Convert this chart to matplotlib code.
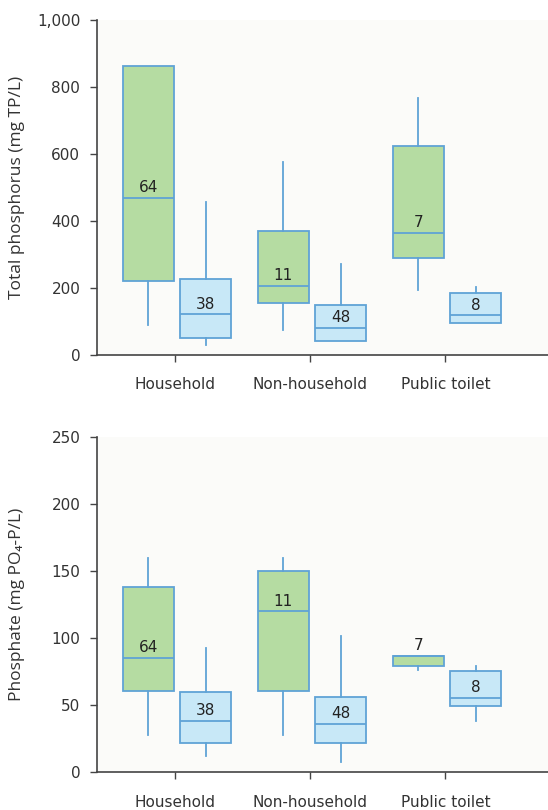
import matplotlib
matplotlib.use("Agg")
import matplotlib.pyplot as plt

categories = ["Household", "Non-household", "Public toilet"]

# Total phosphorus (mg TP/L): green series then blue series
tp_green_low = [90, 75, 194]
tp_green_q1 = [221, 156, 290]
tp_green_med = [470, 206, 363]
tp_green_q3 = [864, 371, 625]
tp_green_high = [864, 577, 768]
tp_green_n = [64, 11, 7]

tp_blue_low = [30, 43, 95]
tp_blue_q1 = [52, 43, 95]
tp_blue_med = [121, 81, 118]
tp_blue_q3 = [226, 149, 186]
tp_blue_high = [456, 271, 204]
tp_blue_n = [38, 48, 8]

# Phosphate (mg PO4-P/L)
po_green_low = [28, 28, 76]
po_green_q1 = [61, 61, 79]
po_green_med = [85, 120, 87]
po_green_q3 = [138, 150, 87]
po_green_high = [160, 160, 87]
po_green_n = [64, 11, 7]

po_blue_low = [12, 8, 38]
po_blue_q1 = [22, 22, 49.5]
po_blue_med = [38, 36, 55.7]
po_blue_q3 = [60, 56, 75.6]
po_blue_high = [92.5, 102, 79]
po_blue_n = [38, 48, 8]

tp_ticks = [0, 200, 400, 600, 800, 1000]
tp_tick_labels = ["0", "200", "400", "600", "800", "1,000"]
po_ticks = [0, 50, 100, 150, 200, 250]
po_tick_labels = ["0", "50", "100", "150", "200", "250"]

GREEN = "#b5dca2"
BLUE = "#c8e8f7"
EDGE = "#5fa3d6"
TEXT = "#333333"
SPINE = "#444444"

plt.rcParams["font.family"] = ["DejaVu Sans"]

fig = plt.figure(figsize=(5.48, 8.10), dpi=100)
ax_top = fig.add_axes([0.177, 0.5617, 0.823, 0.4136])
ax_bot = fig.add_axes([0.177, 0.0465, 0.823, 0.4137])


def stats(low, q1, med, q3, high):
    return [dict(whislo=a, q1=b, med=c, q3=d, whishi=e, fliers=[])
            for a, b, c, d, e in zip(low, q1, med, q3, high)]


def draw_panel(ax, green, blue, gn, bn, ticks, tlabels, ylabel):
    xs = list(range(len(categories)))
    width = 0.38
    for st, offset, fill, ns in ((green, -0.2, GREEN, gn), (blue, 0.225, BLUE, bn)):
        pos = [x + offset for x in xs]
        ax.bxp(st, positions=pos, widths=width, patch_artist=True,
               showcaps=False, showfliers=False,
               boxprops=dict(facecolor=fill, edgecolor=EDGE, linewidth=1.3),
               whiskerprops=dict(color=EDGE, linewidth=1.3),
               medianprops=dict(color=EDGE, linewidth=1.3),
               manage_ticks=False, zorder=3)
        for p, s, n in zip(pos, st, ns):
            ax.annotate(str(n), (p, s["med"]), xytext=(0, 7.5),
                        textcoords="offset points", ha="center", va="center",
                        fontsize=11, color="#222222", zorder=4)
    ax.set_xlim(-0.58, 2.76)
    ax.set_ylim(ticks[0], ticks[-1])
    ax.set_xticks(xs)
    ax.set_xticklabels(categories, fontsize=11, color=TEXT)
    ax.set_yticks(ticks)
    ax.set_yticklabels(tlabels, fontsize=11, color=TEXT)
    ax.tick_params(axis="x", length=5, width=1, color=SPINE, pad=11)
    ax.tick_params(axis="y", length=5, width=1, color=SPINE, pad=7)
    ax.set_facecolor("#fbfbf9")
    for side in ("top", "right"):
        ax.spines[side].set_visible(False)
    for side in ("left", "bottom"):
        ax.spines[side].set_color(SPINE)
        ax.spines[side].set_linewidth(1.2)
    ax.set_ylabel(ylabel, fontsize=12.5, color=TEXT,
                  family=["Open Sans", "DejaVu Sans"])
    ax.yaxis.set_label_coords(-0.16, 0.5)


draw_panel(ax_top,
           stats(tp_green_low, tp_green_q1, tp_green_med, tp_green_q3, tp_green_high),
           stats(tp_blue_low, tp_blue_q1, tp_blue_med, tp_blue_q3, tp_blue_high),
           tp_green_n, tp_blue_n, tp_ticks, tp_tick_labels,
           "Total phosphorus (mg TP/L)")
draw_panel(ax_bot,
           stats(po_green_low, po_green_q1, po_green_med, po_green_q3, po_green_high),
           stats(po_blue_low, po_blue_q1, po_blue_med, po_blue_q3, po_blue_high),
           po_green_n, po_blue_n, po_ticks, po_tick_labels,
           "Phosphate (mg PO₄-P/L)")

fig.savefig("out.png", dpi=100, facecolor="white")
